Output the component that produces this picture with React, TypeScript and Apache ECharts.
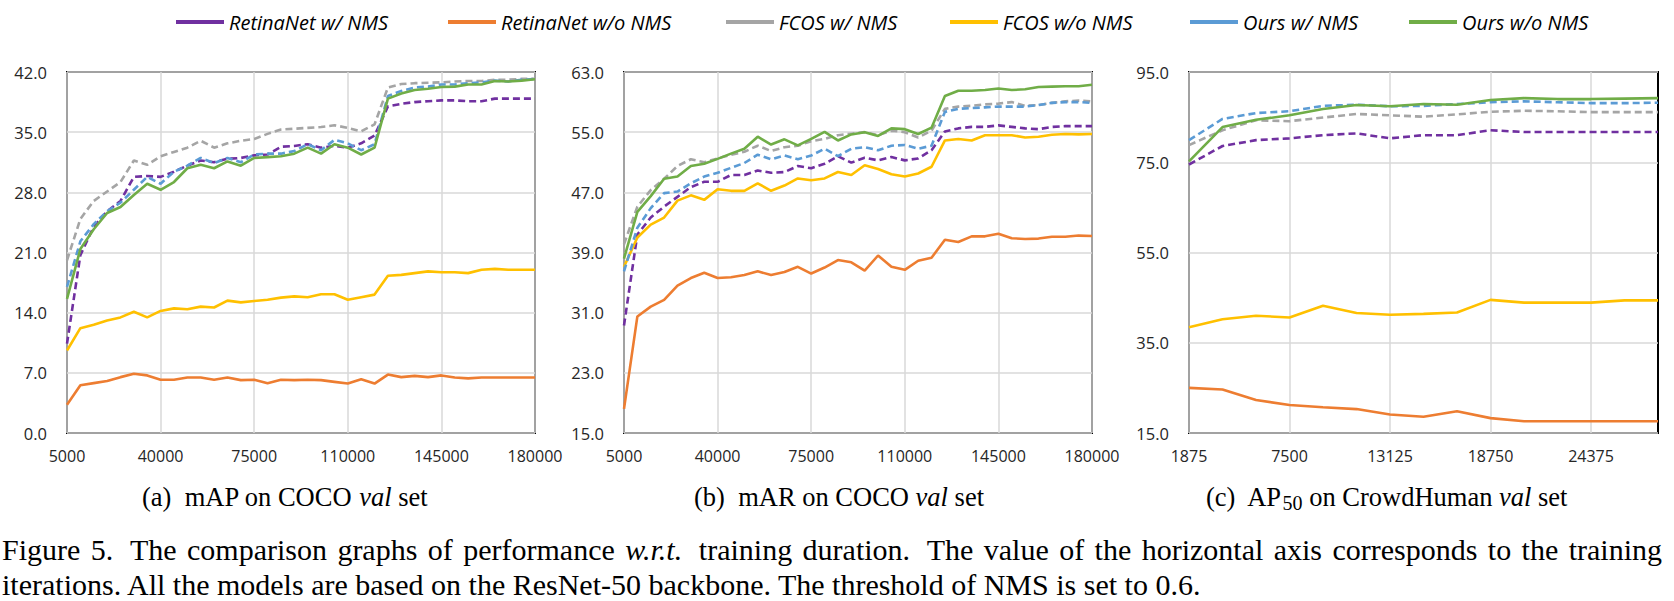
import React, { useEffect, useRef } from 'react';
import * as echarts from 'echarts';

const cocoIters = ['5000', '10000', '15000', '20000', '25000', '30000', '35000', '40000', '45000', '50000', '55000', '60000', '65000', '70000', '75000', '80000', '85000', '90000', '95000', '100000', '105000', '110000', '115000', '120000', '125000', '130000', '135000', '140000', '145000', '150000', '155000', '160000', '165000', '170000', '175000', '180000'];
const crowdIters = ['1875', '3750', '5625', '7500', '9375', '11250', '13125', '15000', '16875', '18750', '20625', '22500', '24375', '26250', '28125'];

const seriesNames = ['RetinaNet w/ NMS', 'RetinaNet w/o NMS', 'FCOS w/ NMS', 'FCOS w/o NMS', 'Ours w/ NMS', 'Ours w/o NMS'];
const seriesColors = ['#7030A0', '#ED7D31', '#A5A5A5', '#FFC000', '#5B9BD5', '#70AD47'];
const seriesDashed = [true, false, true, false, true, false];

// (a) mAP on COCO val
const retinaNmsAP = [10.4, 20.7, 24.0, 25.8, 27.0, 29.8, 29.9, 29.8, 30.4, 31.1, 31.7, 31.5, 31.9, 32.0, 32.3, 32.4, 33.3, 33.4, 33.6, 33.2, 33.4, 33.2, 33.7, 34.6, 38.0, 38.3, 38.5, 38.6, 38.7, 38.7, 38.6, 38.6, 38.9, 38.9, 38.9, 38.9];
const retinaNoNmsAP = [3.3, 5.55, 5.8, 6.05, 6.5, 6.9, 6.7, 6.2, 6.2, 6.45, 6.45, 6.2, 6.45, 6.15, 6.2, 5.8, 6.2, 6.15, 6.2, 6.15, 5.95, 5.75, 6.25, 5.75, 6.8, 6.5, 6.65, 6.5, 6.7, 6.45, 6.35, 6.45, 6.45, 6.45, 6.45, 6.45];
const fcosNmsAP = [20.1, 24.9, 27.0, 28.1, 29.2, 31.7, 31.2, 32.2, 32.7, 33.2, 34.0, 33.2, 33.7, 34.0, 34.2, 34.8, 35.3, 35.4, 35.5, 35.6, 35.8, 35.5, 35.1, 35.9, 40.2, 40.6, 40.7, 40.75, 40.8, 40.9, 40.95, 40.95, 41.1, 41.1, 41.2, 41.2];
const fcosNoNmsAP = [9.6, 12.2, 12.6, 13.1, 13.45, 14.1, 13.45, 14.2, 14.5, 14.4, 14.7, 14.6, 15.4, 15.2, 15.35, 15.5, 15.75, 15.9, 15.8, 16.15, 16.15, 15.5, 15.8, 16.1, 18.3, 18.4, 18.6, 18.8, 18.7, 18.7, 18.6, 19.0, 19.1, 19.0, 19.0, 19.0];
const oursNmsAP = [17.0, 22.3, 24.3, 25.8, 26.8, 28.3, 29.8, 29.0, 30.4, 31.1, 32.0, 31.4, 32.0, 31.5, 32.4, 32.5, 32.5, 32.8, 33.6, 32.9, 34.1, 33.7, 32.9, 33.6, 39.2, 39.8, 40.2, 40.3, 40.55, 40.55, 40.7, 40.8, 41.0, 40.9, 41.1, 41.2];
const oursNoNmsAP = [15.6, 21.4, 23.7, 25.6, 26.3, 27.7, 29.0, 28.3, 29.2, 30.8, 31.2, 30.8, 31.6, 31.1, 32.0, 32.1, 32.2, 32.5, 33.2, 32.5, 33.6, 33.2, 32.4, 33.2, 38.9, 39.5, 39.9, 40.05, 40.25, 40.3, 40.55, 40.55, 40.95, 40.9, 41.0, 41.15];

// (b) mAR on COCO val
const retinaNmsAR = [29.3, 41.4, 43.65, 45.1, 46.4, 47.7, 48.4, 48.4, 49.3, 49.3, 49.9, 49.6, 49.7, 50.5, 50.2, 50.8, 51.8, 50.95, 51.6, 51.25, 51.7, 51.25, 51.5, 52.6, 55.1, 55.5, 55.7, 55.7, 55.9, 55.7, 55.5, 55.4, 55.7, 55.8, 55.8, 55.8];
const retinaNoNmsAR = [18.2, 30.5, 31.8, 32.7, 34.6, 35.6, 36.3, 35.6, 35.7, 36.0, 36.5, 36.0, 36.4, 37.1, 36.2, 37.0, 38.0, 37.7, 36.6, 38.6, 37.1, 36.7, 37.9, 38.3, 40.7, 40.4, 41.15, 41.15, 41.5, 40.9, 40.8, 40.85, 41.1, 41.1, 41.25, 41.2];
const fcosNmsAR = [40.1, 45.1, 47.3, 48.8, 50.5, 51.4, 51.0, 51.5, 52.0, 52.4, 53.2, 52.5, 53.0, 53.2, 53.8, 54.1, 54.6, 54.8, 55.0, 54.6, 55.2, 55.0, 54.3, 55.2, 58.1, 58.4, 58.5, 58.7, 58.8, 59.0, 58.5, 58.6, 58.9, 59.1, 59.2, 59.1];
const fcosNoNmsAR = [37.1, 41.0, 42.7, 43.65, 45.9, 46.6, 46.0, 47.4, 47.2, 47.2, 48.2, 47.2, 47.9, 48.85, 48.6, 48.85, 49.7, 49.3, 50.6, 50.1, 49.4, 49.1, 49.5, 50.4, 53.9, 54.1, 53.9, 54.6, 54.6, 54.6, 54.3, 54.4, 54.65, 54.75, 54.7, 54.75];
const oursNmsAR = [36.5, 42.3, 44.9, 46.9, 47.1, 48.2, 49.1, 49.6, 50.25, 50.9, 52.0, 51.4, 51.9, 51.4, 51.9, 52.8, 51.8, 52.8, 53.0, 52.6, 53.2, 53.3, 52.8, 53.2, 57.7, 58.1, 58.2, 58.3, 58.4, 58.4, 58.4, 58.6, 58.9, 59.0, 59.0, 58.9];
const oursNoNmsAR = [38.2, 44.4, 46.5, 48.8, 49.1, 50.5, 50.8, 51.45, 52.15, 52.8, 54.4, 53.35, 54.05, 53.25, 54.1, 55.05, 53.9, 54.7, 55.0, 54.5, 55.5, 55.4, 54.75, 55.6, 59.8, 60.5, 60.5, 60.6, 60.8, 60.6, 60.7, 61.0, 61.05, 61.1, 61.1, 61.3];

// (c) AP50 on CrowdHuman val
const retinaNmsCH = [74.5, 78.6, 79.9, 80.3, 81.0, 81.4, 80.3, 81.0, 81.0, 82.1, 81.7, 81.7, 81.7, 81.7, 81.7];
const retinaNoNmsCH = [25.0, 24.65, 22.3, 21.2, 20.7, 20.3, 19.1, 18.6, 19.8, 18.3, 17.6, 17.6, 17.6, 17.6, 17.6];
const fcosNmsCH = [78.8, 82.1, 84.3, 84.1, 84.9, 85.7, 85.4, 85.1, 85.6, 86.2, 86.4, 86.3, 86.1, 86.1, 86.1];
const fcosNoNmsCH = [38.45, 40.2, 41.0, 40.6, 43.2, 41.6, 41.2, 41.4, 41.7, 44.5, 43.9, 43.9, 43.9, 44.4, 44.4];
const oursNmsCH = [79.9, 84.6, 85.9, 86.3, 87.5, 87.75, 87.4, 87.5, 87.9, 88.3, 88.5, 88.3, 88.1, 88.1, 88.2];
const oursNoNmsCH = [75.2, 82.8, 84.4, 85.4, 86.8, 87.7, 87.4, 87.9, 87.75, 88.8, 89.2, 89.0, 89.0, 89.1, 89.2];

const yAxisMAP = { min: 0, max: 42, interval: 7 };
const yAxisMAR = { min: 15, max: 63, interval: 8 };
const yAxisCH = { min: 15, max: 95, interval: 20 };

const captionLine1 = ['Figure', '5.', 'The', 'comparison', 'graphs', 'of', 'performance', 'w.r.t.', 'training', 'duration.', 'The', 'value', 'of', 'the', 'horizontal', 'axis', 'corresponds', 'to', 'the', 'training'];
const captionLine2 = 'iterations. All the models are based on the ResNet-50 backbone. The threshold of NMS is set to 0.6.';

const GRIDS = [
  { left: 67, top: 72, width: 468, height: 361 },
  { left: 624, top: 72, width: 468, height: 361 },
  { left: 1189, top: 72, width: 469, height: 361 },
];
const LEGEND_LEFT = [176, 448, 726, 950, 1190, 1409];
const SANS = '"Open Sans", "Noto Sans", sans-serif';
const SERIF = '"Liberation Serif", "Times New Roman", serif';
const CAP_SIZE = 30;
const SUB_SIZE = 26.5;

function buildCaption1(): any[] {
  const canvas = document.createElement('canvas');
  const ctx = canvas.getContext('2d') as CanvasRenderingContext2D;
  const widths = captionLine1.map((w) => {
    ctx.font = `${w === 'w.r.t.' ? 'italic ' : ''}${CAP_SIZE}px "Liberation Serif"`;
    return ctx.measureText(w).width;
  });
  const startX = 2;
  const endX = 1662;
  const total = widths.reduce((a, b) => a + b, 0);
  const weights = captionLine1.slice(0, -1).map((w) => (w.endsWith('.') ? 1.6 : 1));
  const wsum = weights.reduce((a, b) => a + b, 0);
  const unit = (endX - startX - total) / wsum;
  const els: any[] = [];
  let x = startX;
  captionLine1.forEach((w, i) => {
    els.push({
      type: 'text',
      x,
      y: 549,
      silent: true,
      style: {
        text: w,
        fill: '#000',
        fontSize: CAP_SIZE,
        fontFamily: SERIF,
        fontStyle: w === 'w.r.t.' ? 'italic' : 'normal',
        align: 'left',
        verticalAlign: 'middle',
        textAlign: 'left',
        textVerticalAlign: 'middle',
      },
    });
    x += widths[i] + (i < weights.length ? weights[i] * unit : 0);
  });
  return els;
}

export default function App() {
  const ref = useRef<HTMLDivElement>(null);
  useEffect(() => {
    document.body.style.margin = '0';
    if (!ref.current) return;
    const chart = echarts.init(ref.current, undefined, { renderer: 'svg' });

    const groups = [
      { cats: cocoIters, labelInterval: 6, y: yAxisMAP, data: [retinaNmsAP, retinaNoNmsAP, fcosNmsAP, fcosNoNmsAP, oursNmsAP, oursNoNmsAP] },
      { cats: cocoIters, labelInterval: 6, y: yAxisMAR, data: [retinaNmsAR, retinaNoNmsAR, fcosNmsAR, fcosNoNmsAR, oursNmsAR, oursNoNmsAR] },
      { cats: crowdIters, labelInterval: 2, y: yAxisCH, data: [retinaNmsCH, retinaNoNmsCH, fcosNmsCH, fcosNoNmsCH, oursNmsCH, oursNoNmsCH] },
    ];

    const grid = GRIDS.map((g) => ({
      ...g,
      show: true,
      borderColor: '#000',
      borderWidth: 2,
      backgroundColor: 'transparent',
      containLabel: false,
    }));

    const xAxis = groups.map((g, gi) => ({
      type: 'category',
      gridIndex: gi,
      data: g.cats,
      boundaryGap: false,
      axisLine: { show: false },
      axisTick: { show: false },
      axisLabel: {
        interval: g.labelInterval,
        margin: 15,
        fontSize: 16,
        fontFamily: SANS,
        color: '#262626',
      },
      splitLine: {
        show: true,
        interval: g.labelInterval,
        lineStyle: { color: '#D9D9D9', width: 1.5 },
      },
    }));

    const yAxis = groups.map((g, gi) => ({
      type: 'value',
      gridIndex: gi,
      min: g.y.min,
      max: g.y.max,
      interval: g.y.interval,
      axisLine: { show: false },
      axisTick: { show: false },
      axisLabel: {
        margin: 20,
        fontSize: 16.5,
        fontFamily: SANS,
        color: '#262626',
        formatter: (v: number) => v.toFixed(1),
      },
      splitLine: {
        show: true,
        lineStyle: { color: '#D9D9D9', width: 1.5 },
      },
    }));

    const series: any[] = [];
    groups.forEach((g, gi) => {
      g.data.forEach((d, si) => {
        series.push({
          type: 'line',
          name: seriesNames[si],
          xAxisIndex: gi,
          yAxisIndex: gi,
          data: d,
          symbol: 'none',
          showSymbol: false,
          silent: true,
          color: seriesColors[si],
          lineStyle: {
            color: seriesColors[si],
            width: 2.6,
            type: seriesDashed[si] ? [7, 4] : 'solid',
          },
          itemStyle: { color: seriesColors[si] },
          emphasis: { disabled: true },
        });
      });
    });

    const legend = seriesNames.map((n, i) => ({
      data: [n],
      left: LEGEND_LEFT[i],
      top: 12,
      padding: 0,
      icon: 'rect',
      itemWidth: 48,
      itemHeight: 4,
      selectedMode: false,
      textStyle: {
        fontFamily: SANS,
        fontStyle: 'italic',
        fontSize: 20,
        color: '#000',
      },
    }));

    const capRich = (size: number) => ({
      n: { fontFamily: SERIF, fontSize: size, fill: '#000', color: '#000', lineHeight: 32 },
      i: { fontFamily: SERIF, fontSize: size, fontStyle: 'italic', fill: '#000', color: '#000', lineHeight: 32 },
      s: { fontFamily: SERIF, fontSize: 20, fill: '#000', color: '#000', lineHeight: 20, verticalAlign: 'bottom' },
    });
    const subCaption = (x: number, text: string) => ({
      type: 'text',
      x,
      y: 497,
      silent: true,
      style: {
        text,
        rich: capRich(SUB_SIZE),
        fontFamily: SERIF,
        fontSize: SUB_SIZE,
        fill: '#000',
        align: 'left',
        verticalAlign: 'middle',
        textAlign: 'left',
        textVerticalAlign: 'middle',
      },
    });

    const graphic: any[] = [
      subCaption(142, '{n|(a)  mAP on COCO }{i|val}{n| set}'),
      subCaption(694, '{n|(b)  mAR on COCO }{i|val}{n| set}'),
      subCaption(1206, '{n|(c)  AP}{s|50}{n| on CrowdHuman }{i|val}{n| set}'),
      ...buildCaption1(),
      {
        type: 'text',
        x: 2,
        y: 584,
        silent: true,
        style: {
          text: captionLine2,
          fill: '#000',
          fontSize: CAP_SIZE,
          fontFamily: SERIF,
          align: 'left',
          verticalAlign: 'middle',
          textAlign: 'left',
          textVerticalAlign: 'middle',
        },
      },
    ];

    chart.setOption({
      animation: false,
      backgroundColor: '#fff',
      grid,
      xAxis,
      yAxis,
      legend,
      series,
      graphic,
    });

    return () => {
      chart.dispose();
    };
  }, []);

  return <div ref={ref} style={{ width: 1674, height: 601 }} />;
}
